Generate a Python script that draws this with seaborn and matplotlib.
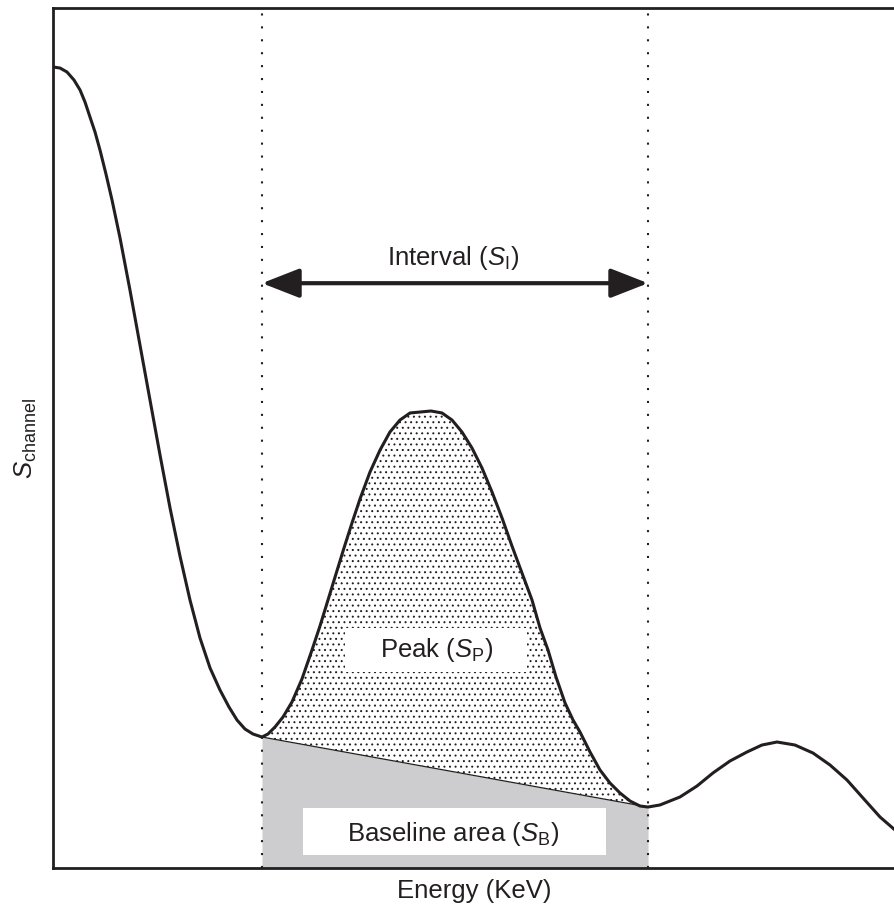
import numpy as np
import matplotlib
matplotlib.use("Agg")
import matplotlib.pyplot as plt
import seaborn as sns
from matplotlib.patches import Rectangle

energy = [0.00, 0.83, 1.66, 2.49, 3.21, 3.80, 4.39, 4.99, 5.58, 6.29, 7.01, 7.96,
          9.14, 10.33, 11.52, 12.71, 13.90, 15.08, 16.27, 17.46, 18.65, 19.83,
          20.90, 21.85, 22.80, 23.75, 24.82,
          25.53, 26.37, 27.32, 28.38, 29.57, 30.76, 31.71, 32.66, 33.61, 34.56,
          35.51, 36.46, 37.65, 38.84, 40.02, 41.21, 42.40, 43.59, 44.89,
          46.20, 47.39, 48.57, 49.76, 50.95, 52.14, 53.33, 54.51, 55.70, 56.89,
          57.84, 58.79, 59.74, 60.81, 61.76, 62.59, 63.78, 64.96, 66.15, 67.34,
          68.53, 69.71, 70.67,
          72.09, 74.47, 76.48, 78.38, 80.40, 82.42, 84.20, 85.99, 88.12, 90.26,
          92.28, 94.30, 96.20, 98.22, 100.00]
counts = [93.14, 93.02, 92.56, 91.63, 90.47, 89.07, 87.33, 85.58, 83.49, 80.70,
          77.67, 73.26, 67.21, 60.81, 54.42, 48.02, 41.86, 36.28, 31.16, 26.74,
          23.26, 20.70, 18.72, 17.21, 16.16, 15.58, 15.23,
          15.58, 16.40, 17.56, 19.30, 21.98, 25.35, 28.14, 31.16, 34.19, 37.21,
          40.12, 42.91, 46.05, 48.60, 50.70, 52.09, 52.91, 53.02, 53.14,
          52.91, 52.09, 50.70, 48.84, 46.51, 43.72, 40.70, 37.44, 34.30, 31.16,
          27.91, 25.35, 22.21, 19.19, 17.21, 15.81, 13.49, 11.40, 9.88, 8.72,
          7.79, 7.21, 7.09,
          7.33, 8.26, 9.53, 11.05, 12.44, 13.49, 14.30, 14.65, 14.30, 13.37,
          11.98, 10.23, 8.14, 5.93, 4.42]

# Integration interval limits and the baseline end points
interval = [24.82, 70.67]
baseline = [15.23, 7.09]

interval_label = r"Interval ($S_\mathrm{I}$)"
peak_label = r"Peak ($S_\mathrm{P}$)"
baseline_label = r"Baseline area ($S_\mathrm{B}$)"
x_label = "Energy (KeV)"
y_label = r"$S_\mathrm{channel}$"

sns.set_theme(style="white")
plt.rcParams["font.family"] = ["Liberation Sans", "DejaVu Sans"]
plt.rcParams["mathtext.fontset"] = "custom"
plt.rcParams["mathtext.rm"] = "Liberation Sans"
plt.rcParams["mathtext.it"] = "Liberation Sans:italic"
plt.rcParams["hatch.linewidth"] = 0.7
plt.rcParams["hatch.color"] = "#231f20"

ink = "#231f20"
fs = 18.5

fig = plt.figure(figsize=(8.95, 9.11), dpi=100)
ax = fig.add_axes([53 / 895, 1 - 868 / 911, 1 - 53 / 895, (868 - 8) / 911])
ax.set_xlim(0, 100)
ax.set_ylim(0, 100)

x = np.array(energy)
y = np.array(counts)
inside = (x >= interval[0]) & (x <= interval[1])
xi = x[inside]
base_i = np.interp(xi, interval, baseline)

# Baseline area (grey) under the straight line joining the interval ends
ax.fill_between(interval, baseline, 0, color="#cdcdcf", lw=0, zorder=1)
# Net peak area, stippled
ax.fill_between(xi, y[inside], base_i, facecolor="white", edgecolor=ink,
                hatch="...", lw=0, zorder=1)
ax.plot(interval, baseline, color=ink, lw=0.9, zorder=2)

# Interval limits
for e in interval:
    ax.axvline(e, color=ink, lw=1.5, ls=(0, (1, 5.2)), zorder=3)

# Spectrum
sns.lineplot(x=energy, y=counts, ax=ax, color=ink, lw=2.2, sort=False,
             estimator=None, zorder=4)

# Interval arrow
ax.annotate("", xy=(interval[0], 68.0), xytext=(interval[1], 68.0),
            arrowprops=dict(arrowstyle="<|-|>,head_length=2.3,head_width=0.9",
                            lw=3, color=ink, shrinkA=0, shrinkB=0,
                            mutation_scale=10), zorder=5)
ax.text(47.5, 70.9, interval_label, ha="center", va="center", fontsize=fs,
        color=ink, zorder=6)

# Label boxes
ax.add_patch(Rectangle((34.7, 22.8), 21.6, 5.1, facecolor="white", lw=0, zorder=5))
ax.text(45.6, 25.3, peak_label, ha="center", va="center", fontsize=fs,
        color=ink, zorder=6)
ax.add_patch(Rectangle((29.7, 1.5), 36.0, 5.5, facecolor="white", lw=0, zorder=5))
ax.text(47.5, 4.0, baseline_label, ha="center", va="center", fontsize=fs,
        color=ink, zorder=6)

ax.set_xticks([])
ax.set_yticks([])
ax.set_xlabel(x_label, fontsize=fs, color=ink, labelpad=8)
ax.set_ylabel(y_label, fontsize=fs, color=ink, labelpad=10)
for side in ["left", "top", "bottom"]:
    ax.spines[side].set_color(ink)
    ax.spines[side].set_linewidth(2)
ax.spines["right"].set_visible(False)

fig.savefig("out.png", dpi=100)
